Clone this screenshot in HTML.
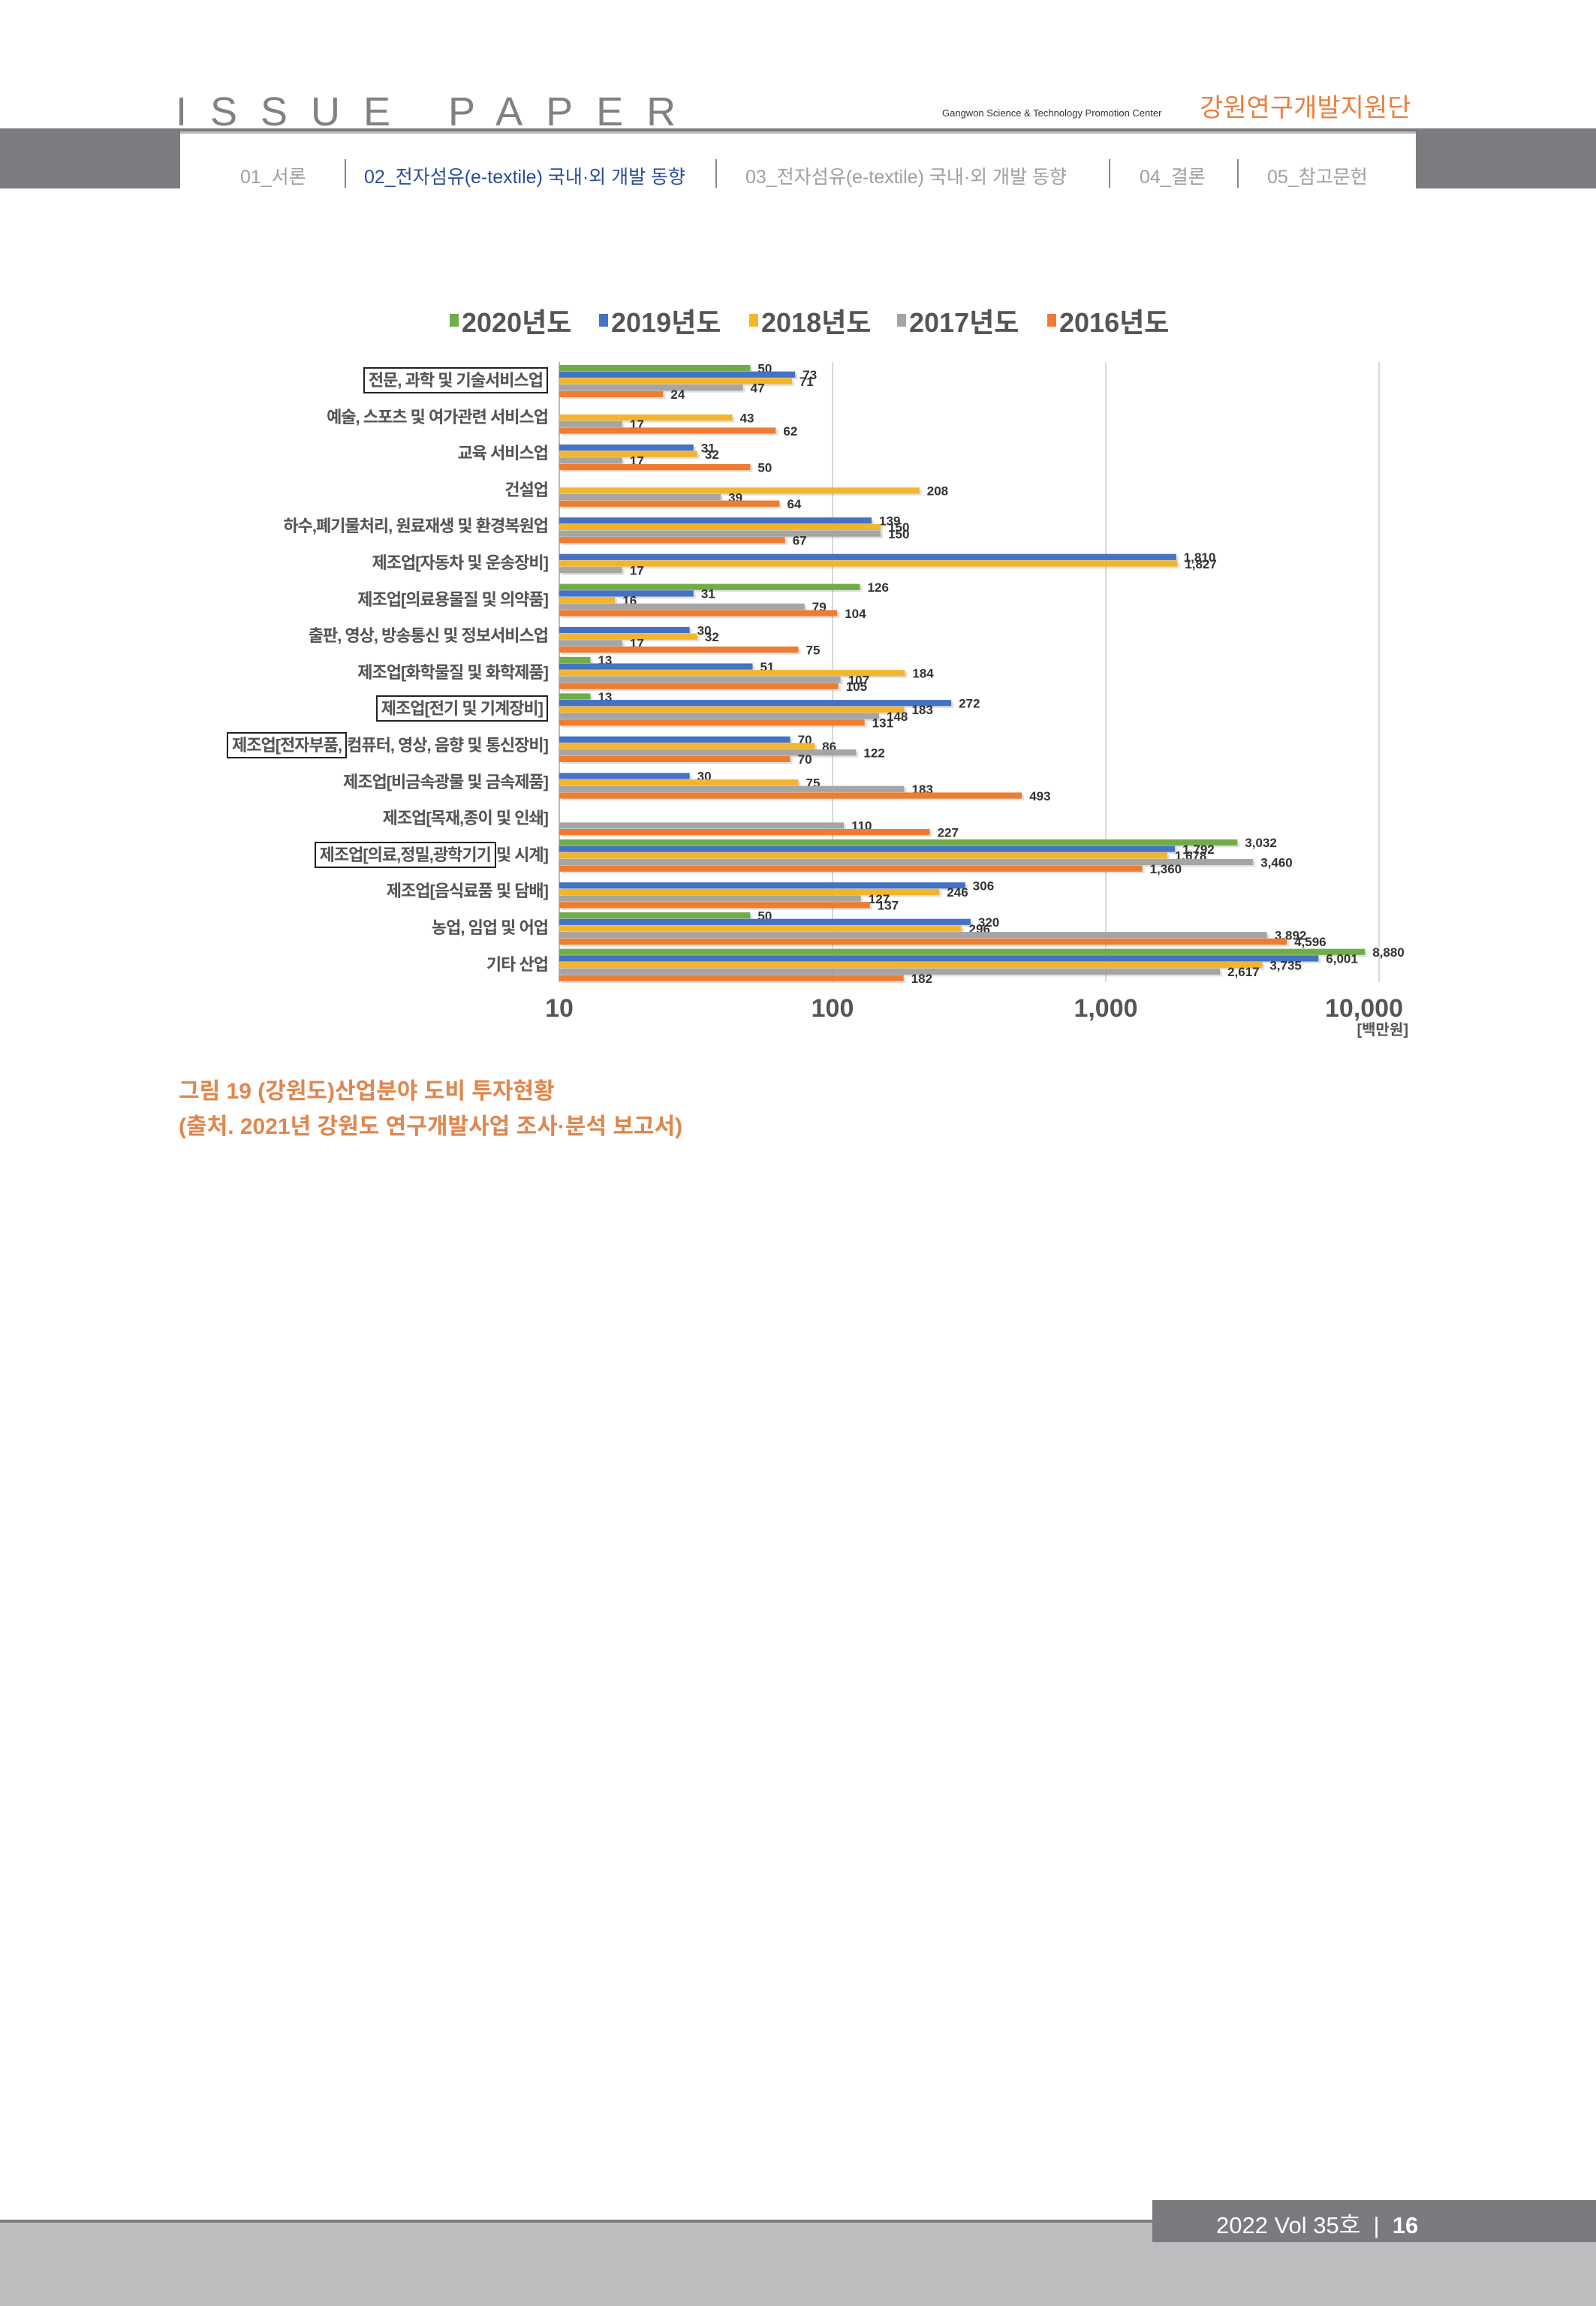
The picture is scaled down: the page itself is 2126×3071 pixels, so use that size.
<!DOCTYPE html>
<html><head><meta charset="utf-8">
<style>
body{margin:0;width:2126px;height:3071px;position:relative;background:#fff;overflow:hidden;font-family:"Liberation Sans","Noto Sans CJK KR",sans-serif}
.abs{position:absolute}
.nav{position:absolute;top:216px;font-size:25px;color:#a0a0a0;white-space:nowrap}
.sep{position:absolute;top:212px;width:2px;height:38px;background:#888}
.lbl{position:absolute;right:1396px;font-size:22px;font-weight:bold;color:#555;white-space:nowrap;letter-spacing:-1px;transform:translateY(-50%);line-height:28px}
.box{border:2px solid #222;padding:3px 5px}
</style></head><body>
<div class="abs" style="left:0;top:171px;width:2126px;height:80px;background:#7b7c80"></div>
<div class="abs" style="left:240px;top:175px;width:1646px;height:76px;background:#fff;border-top:3px solid #bbb"></div>
<div class="abs" style="left:234px;top:122px;font-size:54px;color:#808185;letter-spacing:31px;line-height:54px">ISSUE PAPER</div>
<div class="abs" style="left:1255px;top:143px;font-size:13px;color:#333">Gangwon Science &amp; Technology Promotion Center</div>
<div class="abs" style="left:1598px;top:116px;font-size:34px;color:#e8803f">강원연구개발지원단</div>
<div class="nav" style="left:320px">01_서론</div>
<div class="sep" style="left:459px"></div>
<div class="nav" style="left:485px;color:#2a4d9a">02_전자섬유(e-textile) 국내·외 개발 동향</div>
<div class="sep" style="left:953px"></div>
<div class="nav" style="left:993px">03_전자섬유(e-textile) 국내·외 개발 동향</div>
<div class="sep" style="left:1477px"></div>
<div class="nav" style="left:1518px">04_결론</div>
<div class="sep" style="left:1648px"></div>
<div class="nav" style="left:1688px">05_참고문헌</div>

<svg id="chart" class="abs" style="left:0;top:0" width="2126" height="1420"></svg>
<div id="labels"></div>

<div class="abs" style="left:238px;top:1430px;font-size:30px;font-weight:bold;color:#e0874e;line-height:47px">그림 19 (강원도)산업분야 도비 투자현황<br>(출처. 2021년 강원도 연구개발사업 조사·분석 보고서)</div>

<div class="abs" style="left:0;top:2956px;width:2126px;height:4px;background:#7b7c80"></div>
<div class="abs" style="left:0;top:2960px;width:2126px;height:111px;background:#bcbdbf"></div>
<div class="abs" style="left:1535px;top:2930px;width:591px;height:56px;background:#7a7b7f"></div>
<div class="abs" style="left:1620px;top:2938px;font-size:31px;color:#fff;white-space:nowrap">2022 Vol 35호 &nbsp;|&nbsp; <b>16</b></div>

<script>
const categories=["전문, 과학 및 기술서비스업","예술, 스포츠 및 여가관련 서비스업","교육 서비스업","건설업","하수,폐기물처리, 원료재생 및 환경복원업","제조업[자동차 및 운송장비]","제조업[의료용물질 및 의약품]","출판, 영상, 방송통신 및 정보서비스업","제조업[화학물질 및 화학제품]","제조업[전기 및 기계장비]","제조업[전자부품, 컴퓨터, 영상, 음향 및 통신장비]","제조업[비금속광물 및 금속제품]","제조업[목재,종이 및 인쇄]","제조업[의료,정밀,광학기기 및 시계]","제조업[음식료품 및 담배]","농업, 임업 및 어업","기타 산업"];
const seriesNames=["2020년도","2019년도","2018년도","2017년도","2016년도"];
const s2020=[50,null,null,null,null,null,126,null,13,13,null,null,null,3032,null,50,8880];
const s2019=[73,null,31,null,139,1810,31,30,51,272,70,30,null,1792,306,320,6001];
const s2018=[71,43,32,208,150,1827,16,32,184,183,86,75,null,1678,246,296,3735];
const s2017=[47,17,17,39,150,17,79,17,107,148,122,183,110,3460,127,3892,2617];
const s2016=[24,62,50,64,67,null,104,75,105,131,70,493,227,1360,137,4596,182];
const ticks=[10,100,1000,10000];
const tickLabels=["10","100","1,000","10,000"];
const colors=["#70ad47","#4472c4","#f2b52c","#a5a5a5","#ed7d31"];
const series=[s2020,s2019,s2018,s2017,s2016];
const X0=745,DEC=364,Y0=486,GAP=48.6,BH=8.7;
const x=v=>X0+DEC*Math.log10(v/10);
const y=(i,s)=>Y0+i*GAP+s*BH;
const svg=document.getElementById('chart');
const NS='http://www.w3.org/2000/svg';
function mk(t,a){const e=document.createElementNS(NS,t);for(const k in a)e.setAttribute(k,a[k]);svg.appendChild(e);return e;}
ticks.forEach((t,i)=>{
 const g=mk('line',{x1:x(t),x2:x(t),y1:482,y2:1308,stroke:i==0?'#bbb':'#d9d9d9','stroke-width':2});
 
 
 const tx=mk('text',{x:x(t),y:1354,'text-anchor':i==3?'end':'middle','font-size':34,'font-weight':'bold',fill:'#555'});
 if(i==3)tx.setAttribute('x',x(t)+32);
 tx.textContent=tickLabels[i];
 
 
});
const unit=mk('text',{x:1876,y:1378,'text-anchor':'end','font-size':20,'font-weight':'bold',fill:'#555','font-family':'"Liberation Sans","Noto Sans CJK KR",sans-serif'});
unit.textContent='[백만원]';


const lx=[599,798,998,1195,1395];
seriesNames.forEach((n,s)=>{
 const r=mk('rect',{x:lx[s],y:418,width:12,height:17,fill:colors[s]});
 
 
 const t=mk('text',{x:lx[s]+16,y:442,'font-size':36,'font-weight':'bold',fill:'#555','font-family':'"Liberation Sans","Noto Sans CJK KR",sans-serif'});
 t.textContent=n;
 
 
});
categories.forEach((c,i)=>{
 series.forEach((arr,s)=>{
  const v=arr[i]; if(v==null)return;
  const sh=mk('rect',{x:X0+3,y:y(i,s)+3,width:x(v)-X0,height:BH-1,fill:'#000',opacity:0.12});
  
  
  const b=mk('rect',{x:X0,y:y(i,s),width:x(v)-X0,height:BH-0.5,fill:colors[s]});
  
  
  const t=mk('text',{x:x(v)+10,y:y(i,s)+BH/2+6,'font-size':17,'font-weight':'bold',fill:'#333'});
  t.textContent=v.toLocaleString('en-US');
  
  
 });
});
const boxed={0:[c=>`<span class="box">${c}</span>`],9:[c=>`<span class="box">${c}</span>`],10:[c=>`<span class="box">제조업[전자부품,</span>컴퓨터, 영상, 음향 및 통신장비]`],13:[c=>`<span class="box">제조업[의료,정밀,광학기기</span>및 시계]`]};
const L=document.getElementById('labels');
categories.forEach((c,i)=>{
 const d=document.createElement('div');
 d.className='lbl';
 d.style.top=(Y0+i*GAP+21)+'px';
 d.innerHTML=boxed[i]?boxed[i][0](c):c;
 
 
 L.appendChild(d);
});
</script>
</body></html>
